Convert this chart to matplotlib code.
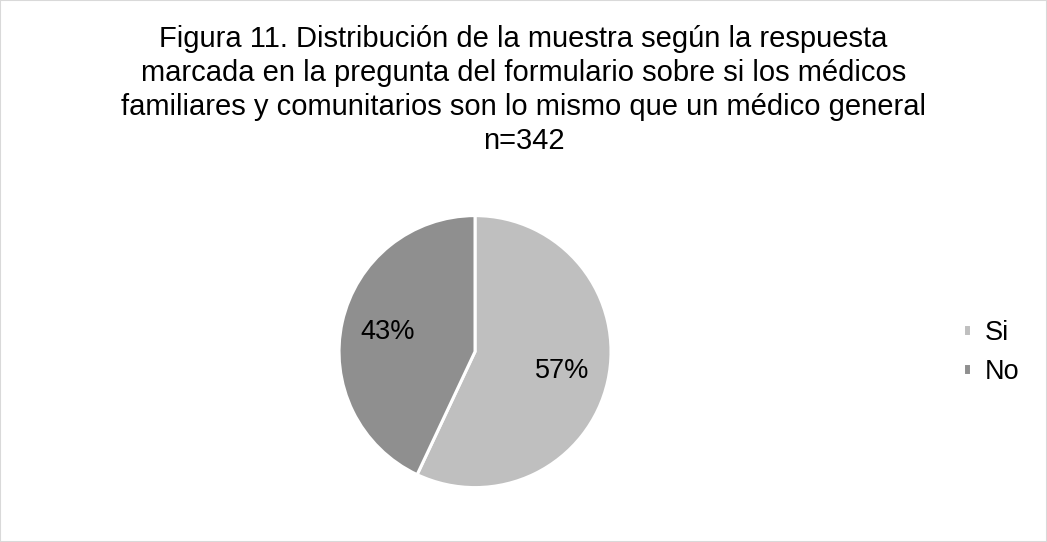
import matplotlib.pyplot as plt
from matplotlib.patches import Rectangle

plt.rcParams['font.family'] = ['Liberation Sans', 'DejaVu Sans']

labels = ["Si", "No"]
values = [57, 43]
colors = ["#BFBFBF", "#8F8F8F"]

title = ("Figura 11. Distribución de la muestra según la respuesta\n"
         "marcada en la pregunta del formulario sobre si los médicos\n"
         "familiares y comunitarios son lo mismo que un médico general\n"
         "n=342")

fig = plt.figure(figsize=(10.47, 5.42), dpi=100)
# light grey chart border
fig.patches.append(Rectangle((0, 0), 1, 1, transform=fig.transFigure,
                             fill=False, edgecolor="#D9D9D9", linewidth=1.5))

fig.text(0.5, 0.953, title, ha="center", va="top", fontsize=21,
         color="black", linespacing=1.26)

# pie: centre ~ (475, 352) px, radius ~136 px
ax = fig.add_axes([0.3238, 0.1004, 0.2598, 0.5018])
wedges, texts, autotexts = ax.pie(values, colors=colors, startangle=90, counterclock=False,
                                  autopct="%1.0f%%", pctdistance=0.66,
                                  wedgeprops=dict(edgecolor="white", linewidth=2.2),
                                  textprops=dict(fontsize=19.5, color="black"))
ax.set_xlim(-1, 1)
ax.set_ylim(-1, 1)
ax.set_aspect("equal")

fig.legend(wedges, labels, loc="center left", bbox_to_anchor=(0.92, 0.35),
           frameon=False, fontsize=19.5, handlelength=0.3, handleheight=0.3,
           handletextpad=0.5, labelspacing=0.5, borderaxespad=0, borderpad=0,
           labelcolor="black")

fig.savefig("out.png", dpi=100)
